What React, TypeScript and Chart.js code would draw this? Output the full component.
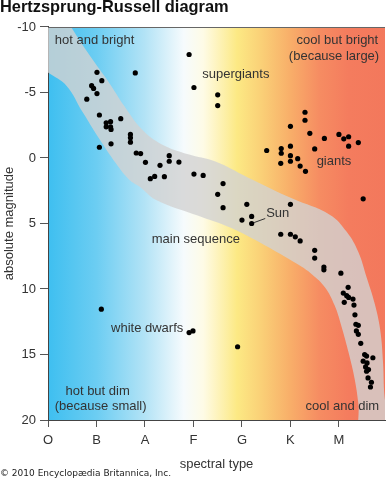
import { useEffect, useRef } from 'react';
import { Chart, registerables } from 'chart.js';

Chart.register(...registerables);

// ---- data ----
const spectralClasses = ['O', 'B', 'A', 'F', 'G', 'K', 'M'];

// [spectral position (O=0 ... M=6), absolute magnitude]
const mainSequence: [number, number][] = [
  [1.01, -6.54], [1.11, -5.9], [0.9, -5.52], [0.94, -5.31], [1.01, -4.92], [0.8, -4.49],
  [1.06, -3.28], [1.5, -3.0], [1.2, -2.69], [1.29, -2.77], [1.2, -2.38], [1.29, -2.38],
  [1.3, -2.18], [1.7, -1.8], [1.7, -1.54], [1.7, -1.21], [1.06, -0.82], [1.3, -1.08],
  [1.82, -0.38], [1.91, -0.34], [2.01, 0.33], [2.11, 1.58], [2.2, 1.41], [2.31, 0.56],
  [2.4, 1.43], [2.5, -0.18], [2.5, 0.25], [2.7, 0.31], [3.01, 1.23], [3.2, 1.33],
  [3.61, 1.95], [3.5, 2.77], [3.61, 3.79], [4.1, 3.54], [4.0, 4.74], [4.2, 4.46],
  [4.2, 5.0], [5.0, 3.54], [4.8, 5.82], [5.0, 5.82], [5.1, 6.02], [5.2, 6.33], [5.5, 7.05],
  [5.5, 7.64], [5.69, 8.33], [5.69, 8.54], [6.04, 8.79], [6.19, 9.87], [6.09, 10.31],
  [6.16, 10.51], [6.2, 10.64], [6.11, 11.02], [6.29, 10.77], [6.31, 11.23], [6.33, 11.97],
  [6.35, 12.69], [6.4, 12.77], [6.36, 13.2], [6.4, 13.46], [6.45, 14.15], [6.53, 15.0],
  [6.57, 15.12], [6.7, 15.25], [6.5, 15.51], [6.58, 15.64], [6.55, 15.95], [6.61, 16.15],
  [6.57, 16.28], [6.6, 16.79], [6.67, 17.12], [6.65, 17.48],
];

const giants: [number, number][] = [
  [5.3, -3.49], [5.3, -2.88], [5.0, -2.42], [5.4, -1.88], [5.7, -1.49], [6.0, -1.8],
  [6.1, -1.46], [6.2, -1.62], [6.2, -0.9], [6.4, -1.18], [4.51, -0.57], [4.81, -0.72],
  [4.81, -0.36], [5.0, -0.9], [5.5, -0.69], [5.0, -0.18], [5.0, 0.25], [5.15, 0.05],
  [4.8, 0.41], [5.2, 0.62], [5.31, 1.02], [6.5, 3.12],
];

const supergiants: [number, number][] = [
  [1.8, -6.49], [2.91, -7.9], [3.01, -5.38], [3.5, -4.82], [3.5, -4.0],
];

const whiteDwarfs: [number, number][] = [
  [1.1, 11.54], [2.91, 13.33], [2.99, 13.2], [3.91, 14.41],
];

// main-sequence band outline
const bandUpper: [number, number][] = [
  [0.12, -12.3], [0.48, -9.98], [0.89, -7.67], [1.26, -5.75], [1.57, -3.98], [1.93, -2.21],
  [2.34, -1.05], [2.89, -0.28], [3.44, 0.25], [4.12, 1.48], [5.04, 3.1], [5.81, 4.33],
  [6.16, 5.64], [6.4, 7.18], [6.57, 9.1], [6.73, 11.02], [6.85, 13.1], [6.91, 15.64],
  [6.94, 18.18], [7.05, 21.5],
];
const bandLower: [number, number][] = [
  [-0.3, -7.31], [0, -6.52], [0.38, -5.52], [0.71, -3.52], [1.06, -1.44], [1.4, 0.41],
  [1.67, 1.64], [1.91, 2.25], [2.22, 3.18], [3.1, 4.41], [3.77, 5.33], [4.46, 6.64],
  [5.14, 8.1], [5.44, 8.87], [5.71, 9.87], [5.91, 11.25], [6.06, 12.95], [6.2, 14.87],
  [6.32, 16.79], [6.4, 18.72], [6.47, 21.5],
];

// background colour along spectral axis
const spectrumStops: [number, string][] = [
  [0, '#3ebff0'], [1.0, '#6ccdf2'], [2.0, '#b3e3f6'], [2.8, '#f6fbfd'], [3.2, '#fefbe6'],
  [3.9, '#fce984'], [4.4, '#fad077'], [5.0, '#f8ae69'], [5.6, '#f68c62'], [6.2, '#f47c5e'],
  [6.95, '#f3785c'],
];

const annotations: { text: string; x: number; y: number; align: CanvasTextAlign }[] = [
  { text: 'hot and bright', x: 0.14, y: -9.0, align: 'left' },
  { text: 'cool but bright', x: 6.81, y: -9.0, align: 'right' },
  { text: '(because large)', x: 6.83, y: -7.75, align: 'right' },
  { text: 'supergiants', x: 3.18, y: -6.36, align: 'left' },
  { text: 'giants', x: 5.54, y: 0.25, align: 'left' },
  { text: 'Sun', x: 4.5, y: 4.24, align: 'left' },
  { text: 'main sequence', x: 2.14, y: 6.2, align: 'left' },
  { text: 'white dwarfs', x: 1.3, y: 13.0, align: 'left' },
  { text: 'hot but dim', x: 0.36, y: 17.8, align: 'left' },
  { text: '(because small)', x: 0.14, y: 19.0, align: 'left' },
  { text: 'cool and dim', x: 6.83, y: 19.0, align: 'right' },
];
const sunPointer: [number, number][] = [[4.25, 4.93], [4.48, 4.62]];

const toPts = (arr: [number, number][]) => arr.map(([x, y]) => ({ x, y }));

const spectrumPlugin = {
  id: 'spectrumBg',
  beforeDraw(chart: any) {
    const { ctx, chartArea: a, scales } = chart;
    const xs = scales.x;
    const g = ctx.createLinearGradient(a.left, 0, a.right, 0);
    spectrumStops.forEach(([v, c]) => {
      const p = (xs.getPixelForValue(v) - a.left) / (a.right - a.left);
      g.addColorStop(Math.min(1, Math.max(0, p)), c);
    });
    ctx.save();
    ctx.fillStyle = g;
    ctx.fillRect(a.left, a.top, a.right - a.left, a.bottom - a.top);
    ctx.restore();
  },
};

const annotationPlugin = {
  id: 'hrLabels',
  afterDatasetsDraw(chart: any) {
    const { ctx, scales, chartArea: a } = chart;
    const xs = scales.x;
    const ys = scales.y;
    ctx.save();
    ctx.font = '13px "Liberation Sans", Arial, sans-serif';
    ctx.fillStyle = '#333';
    ctx.textBaseline = 'middle';
    annotations.forEach((l) => {
      ctx.textAlign = l.align;
      ctx.fillText(l.text, xs.getPixelForValue(l.x), ys.getPixelForValue(l.y));
    });
    ctx.strokeStyle = '#333';
    ctx.lineWidth = 1;
    ctx.beginPath();
    ctx.moveTo(xs.getPixelForValue(sunPointer[0][0]), ys.getPixelForValue(sunPointer[0][1]));
    ctx.lineTo(xs.getPixelForValue(sunPointer[1][0]), ys.getPixelForValue(sunPointer[1][1]));
    ctx.stroke();
    // top frame line
    ctx.strokeStyle = '#666';
    ctx.beginPath();
    ctx.moveTo(a.left, Math.round(a.top) + 0.5);
    ctx.lineTo(a.right, Math.round(a.top) + 0.5);
    ctx.stroke();
    ctx.restore();
  },
};

function HRChart() {
  const ref = useRef<HTMLCanvasElement | null>(null);
  useEffect(() => {
    if (!ref.current) return;
    const stars = [...mainSequence, ...giants, ...supergiants, ...whiteDwarfs];
    const bandPolygon = [...bandUpper, ...[...bandLower].reverse()];
    const chart = new Chart(ref.current, {
      type: 'scatter',
      data: {
        datasets: [
          {
            type: 'line',
            label: 'main sequence band',
            data: toPts(bandPolygon),
            fill: 'shape',
            backgroundColor: 'rgba(210,210,210,0.8)',
            borderWidth: 0,
            borderColor: 'rgba(0,0,0,0)',
            pointRadius: 0,
            tension: 0.4,
            order: 2,
          } as any,
          {
            label: 'stars',
            data: toPts(stars),
            backgroundColor: '#000',
            borderColor: '#000',
            pointRadius: 2.6,
            borderWidth: 0,
            order: 1,
          },
        ],
      },
      options: {
        responsive: false,
        animation: false,
        layout: { padding: 0 },
        font: { family: '"Liberation Sans", Arial, sans-serif' },
        plugins: {
          legend: { display: false },
          tooltip: { enabled: false },
          title: {
            display: true,
            text: 'Hertzsprung-Russell diagram',
            align: 'start',
            color: '#111',
            font: { size: 16.4, weight: 'bold', family: '"Liberation Sans", Arial, sans-serif' },
            padding: { top: -2, bottom: 9.3 },
          },
          subtitle: {
            display: true,
            position: 'bottom',
            align: 'start',
            text: '© 2010 Encyclopædia Britannica, Inc.',
            color: '#222',
            font: { size: 9, family: '"DejaVu Sans", sans-serif' },
            padding: { top: -4, bottom: 0.8 },
          },
        },
        scales: {
          x: {
            type: 'linear',
            min: 0,
            max: 6.95,
            z: 1,
            afterFit: (s: any) => { s.height = 52.4; },
            grid: { drawOnChartArea: false, drawTicks: true, tickLength: 7, color: '#555' },
            border: { display: true, color: '#444' },
            ticks: {
              stepSize: 1,
              includeBounds: false,
              padding: 6,
              color: '#333',
              font: { size: 13, family: '"Liberation Sans", Arial, sans-serif' },
              callback: (v: any) => spectralClasses[v] ?? '',
            },
            title: {
              display: true,
              text: 'spectral type',
              color: '#333',
              font: { size: 13, family: '"Liberation Sans", Arial, sans-serif' },
              padding: 0,
            },
          },
          y: {
            type: 'linear',
            reverse: true,
            min: -10,
            max: 20,
            z: 1,
            afterFit: (s: any) => { s.width = 48; },
            grid: { drawOnChartArea: false, drawTicks: true, tickLength: 8, color: '#555' },
            border: { display: true, color: '#444' },
            ticks: {
              stepSize: 5,
              padding: 4,
              color: '#333',
              font: { size: 13, family: '"Liberation Sans", Arial, sans-serif' },
            },
            title: {
              display: true,
              text: 'absolute magnitude',
              color: '#333',
              font: { size: 13, family: '"Liberation Sans", Arial, sans-serif' },
              padding: { top: 2, bottom: 0 },
            },
          },
        },
      } as any,
      plugins: [spectrumPlugin, annotationPlugin],
    });
    return () => chart.destroy();
  }, []);
  return <canvas ref={ref} width={389} height={480} style={{ display: 'block' }} />;
}

export default function App() {
  return (
    <div style={{ position: 'absolute', left: 0, top: 0, width: 389, height: 480, background: '#fff' }}>
      <HRChart />
    </div>
  );
}
